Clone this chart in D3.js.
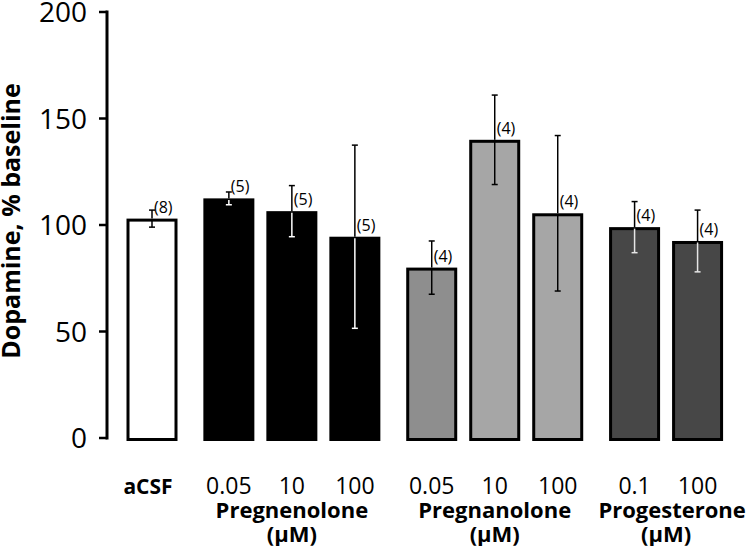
<!DOCTYPE html>
<html>
<head>
<meta charset="utf-8">
<script src="https://cdn.jsdelivr.net/npm/d3@7"></script>
<style>
  body { margin: 0; background: #fff; }
  svg { display: block; font-family: "Open Sans", "Liberation Sans", sans-serif; }
</style>
</head>
<body>
<div id="chart"></div>
<script>
// bar data
const doses = ["aCSF", "0.05", "10", "100", "0.05", "10", "100", "0.1", "100"];
const groupOf = [0, 1, 1, 1, 2, 2, 2, 3, 3];
const values = [103, 112.5, 106.5, 94.5, 80, 140, 105.5, 99, 92.5];
const errors = [4, 3, 12, 43, 12.5, 21, 36.5, 12, 14.5];
const nLabels = ["(8)", "(5)", "(5)", "(5)", "(4)", "(4)", "(4)", "(4)", "(4)"];
const groupNames = ["", "Pregnenolone", "Pregnanolone", "Progesterone"];
const yTicks = [0, 50, 100, 150, 200];

// styling per bar
const fills = ["#fff", "#000", "#000", "#000", "#8e8e8e", "#a6a6a6", "#a6a6a6", "#474747", "#474747"];
const innerErr = ["#000", "#fff", "#fff", "#fff", "#000", "#000", "#000", "#e6e6e6", "#e6e6e6"];

const width = 754, height = 546;
const groupGap = 0.22; // extra slot space between groups

const svg = d3.select("#chart").append("svg")
    .attr("width", width)
    .attr("height", height);

const y = d3.scaleLinear().domain([0, 200]).range([438, 12]);

const slots = doses.map((d, i) => i + groupOf[i] * groupGap);
const x = d3.scaleLinear()
    .domain([0, d3.max(slots)])
    .range([152, 152 + d3.max(slots) * 63]);

const barW = 51;

// y axis
const axis = svg.append("g").attr("transform", "translate(107,0)");
axis.append("line")
    .attr("y1", y(200) - 1.5).attr("y2", y(0) + 1.5)
    .attr("stroke", "#000").attr("stroke-width", 3);
axis.selectAll(".tick").data(yTicks).enter().append("line")
    .attr("x1", -8).attr("x2", 0)
    .attr("y1", d => y(d)).attr("y2", d => y(d))
    .attr("stroke", "#000").attr("stroke-width", 2.5);
axis.selectAll(".lbl").data(yTicks).enter().append("text")
    .attr("x", -20)
    .attr("y", d => y(d))
    .attr("dy", "0.36em")
    .attr("text-anchor", "end")
    .attr("font-size", "28px")
    .attr("fill", "#000")
    .text(d => d);

svg.append("text")
    .attr("transform", "translate(20,221) rotate(-90)")
    .attr("text-anchor", "middle")
    .attr("font-size", "25px")
    .attr("font-weight", "bold")
    .text("Dopamine, % baseline");

// bars
svg.selectAll(".bar").data(values).enter().append("rect")
    .attr("x", (d, i) => x(slots[i]) - barW / 2 + 1.5)
    .attr("y", d => y(d) + 1.5)
    .attr("width", barW - 3)
    .attr("height", d => y(0) - y(d))
    .attr("fill", (d, i) => fills[i])
    .attr("stroke", "#000")
    .attr("stroke-width", 3);

// error bars: black above the bar top, contrasting colour inside the bar
const capW = 6;
values.forEach((v, i) => {
    const cx = x(slots[i]);
    const g = svg.append("g");
    g.append("line")
        .attr("x1", cx).attr("x2", cx)
        .attr("y1", y(v + errors[i])).attr("y2", y(v))
        .attr("stroke", "#000").attr("stroke-width", 1.5);
    g.append("line")
        .attr("x1", cx - capW / 2).attr("x2", cx + capW / 2)
        .attr("y1", y(v + errors[i])).attr("y2", y(v + errors[i]))
        .attr("stroke", "#000").attr("stroke-width", 1.5);
    g.append("line")
        .attr("x1", cx).attr("x2", cx)
        .attr("y1", y(v) + 1.5).attr("y2", y(v - errors[i]))
        .attr("stroke", innerErr[i]).attr("stroke-width", 1.5);
    g.append("line")
        .attr("x1", cx - capW / 2).attr("x2", cx + capW / 2)
        .attr("y1", y(v - errors[i])).attr("y2", y(v - errors[i]))
        .attr("stroke", innerErr[i]).attr("stroke-width", 1.5);
    g.append("text")
        .attr("x", cx + 2)
        .attr("y", y(v) - 6)
        .attr("font-size", "16px")
        .text(nLabels[i]);
});

// x labels
svg.selectAll(".dose").data(doses).enter().append("text")
    .attr("x", (d, i) => x(slots[i]) - (i === 0 ? 4 : 0))
    .attr("y", 494)
    .attr("text-anchor", "middle")
    .attr("font-size", (d, i) => i === 0 ? "21px" : "23px")
    .attr("font-weight", (d, i) => i === 0 ? "bold" : "normal")
    .text(d => d);

const groups = [1, 2, 3].map(gi => {
    const members = slots.filter((s, i) => groupOf[i] === gi);
    return { name: groupNames[gi], cx: x(d3.mean(members)) };
});

const gl = svg.selectAll(".grp").data(groups).enter().append("g");
gl.append("text")
    .attr("x", (d, i) => d.cx + (i === 2 ? 6 : 0))
    .attr("y", 518)
    .attr("text-anchor", "middle")
    .attr("font-size", "22px")
    .attr("font-weight", "bold")
    .text(d => d.name);
gl.append("text")
    .attr("x", d => d.cx)
    .attr("y", 542)
    .attr("text-anchor", "middle")
    .attr("font-size", "22px")
    .attr("font-weight", "bold")
    .text("(μM)");
</script>
</body>
</html>
